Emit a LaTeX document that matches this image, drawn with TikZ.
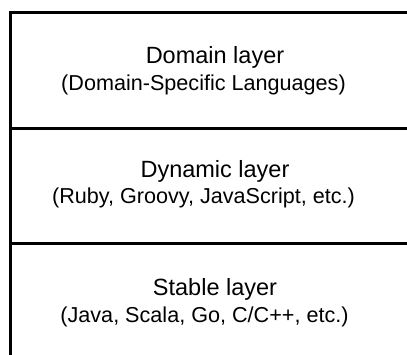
\documentclass[tikz,border=0pt]{standalone}
\usepackage{fontspec}
\setmainfont{Liberation Sans}
\usetikzlibrary{positioning}
\tikzset{
  layerbox/.style={draw, line width=3pt},
  layertitle/.style={anchor=base, inner sep=0pt, font=\fontsize{23.5}{28}\selectfont},
  layerlangs/.style={anchor=base, inner sep=0pt, font=\fontsize{21.6}{26}\selectfont}
}

\begin{document}
\begin{tikzpicture}[x=1pt, y=-1pt]

% page frame
\clip (0,0) rectangle (407,354);

% layers
\draw[layerbox] (10.5,12.5) rectangle (430,128);
\draw[layerbox] (10.5,128) rectangle (430,243.5);
\draw[layerbox] (10.5,243.5) rectangle (430,380);

%Domain
\node[layertitle] (domain) at (215,63) {Domain layer};
\node[layerlangs] (domainlangs) at (203.5,90) {(Domain-Specific Languages)};

%Dynamic
\node[layertitle] (dynamic) at (215,177) {Dynamic layer};
\node[layerlangs] (dynamiclangs) at (203.5,203.5) {(Ruby, Groovy, JavaScript, etc.)};

%Stable
\node[layertitle] (stable) at (215,295) {Stable layer};
\node[layerlangs] (stablelangs) at (204.5,322) {(Java, Scala, Go, C/C++, etc.)};

\end{tikzpicture}
\end{document}
